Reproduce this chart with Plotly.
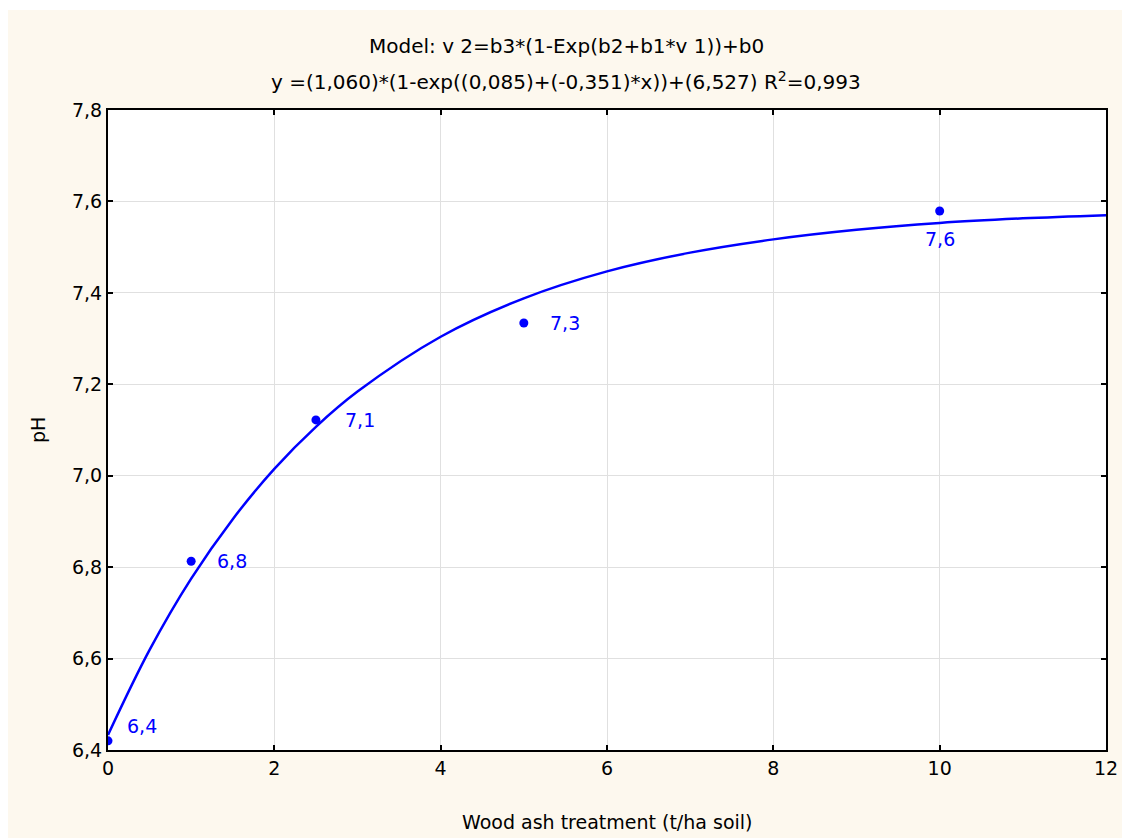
import plotly.graph_objects as go

# Observed data points
x_obs = [0, 1, 2.5, 5, 10]
y_obs = [6.42, 6.813, 7.122, 7.334, 7.579]
# label offsets (pixels) relative to each point
label_dx = [17, 24, 27, 24, 0]
label_dy = [15, 0, 0, 0, -28]
label_anchor = ["left", "left", "left", "left", "center"]

# Fitted curve
x_fit = [0, 0.5, 1, 1.5, 2, 2.5, 3, 4, 5, 6, 7, 8, 9, 10, 11, 12]
y_fit = [6.433, 6.619, 6.775, 6.905, 7.015, 7.107, 7.184, 7.304, 7.388,
         7.447, 7.488, 7.517, 7.538, 7.553, 7.563, 7.570]

x_ticks = [0, 2, 4, 6, 8, 10, 12]
y_ticks = [6.4, 6.6, 6.8, 7.0, 7.2, 7.4, 7.6, 7.8]

title_line1 = "Model: v 2=b3*(1-Exp(b2+b1*v 1))+b0"
title_line2 = "y =(1,060)*(1-exp((0,085)+(-0,351)*x))+(6,527) R<sup>2</sup>=0,993"
x_title = "Wood ash treatment (t/ha soil)"
y_title = "pH"

W, H = 1122, 838
L, R, T, B = 108, 16, 110, 88
pw, ph = W - L - R, H - T - B

FONT = "DejaVu Sans, Verdana, sans-serif"
BLUE = "#0000FF"
CREAM = "#FDF8EE"

fig = go.Figure()
fig.add_trace(go.Scatter(x=x_fit, y=y_fit, mode="lines",
                         line=dict(color=BLUE, width=2.5, shape="spline"),
                         hoverinfo="skip", showlegend=False))
fig.add_trace(go.Scatter(x=x_obs, y=y_obs, mode="markers",
                         marker=dict(color=BLUE, size=9),
                         showlegend=False, cliponaxis=True))

for xv, yv, dx, dy, anc in zip(x_obs, y_obs, label_dx, label_dy, label_anchor):
    fig.add_annotation(x=xv, y=yv, xref="x", yref="y", text=f"{yv:.1f}".replace(".", ","),
                       showarrow=False, xshift=dx, yshift=dy, xanchor=anc, yanchor="middle",
                       font=dict(size=19, family=FONT, color=BLUE))

axis_common = dict(showline=True, linecolor="black", linewidth=2, mirror="ticks",
                   ticks="inside", ticklen=5, tickwidth=2, tickcolor="black",
                   showgrid=True, gridcolor="#E0E0E0", gridwidth=1, zeroline=False,
                   tickfont=dict(size=19, family=FONT, color="black"))

fig.update_xaxes(range=[0, 12], tickvals=x_ticks, ticktext=[str(v) for v in x_ticks], **axis_common)
fig.update_yaxes(range=[6.4, 7.8], tickvals=y_ticks, tickformat=".1f", **axis_common)

# Cream background panel with white outer frame
fig.add_shape(type="rect", xref="paper", yref="paper", layer="below",
              x0=(8 - L) / pw, x1=(W - L) / pw, y0=-(B) / ph, y1=(H - B - 10) / ph,
              fillcolor=CREAM, line=dict(width=0))
fig.add_shape(type="rect", xref="paper", yref="paper", layer="below",
              x0=0, x1=1, y0=0, y1=1, fillcolor="white", line=dict(width=0))

tcx = (566 - L) / pw
fig.add_annotation(text=title_line1, xref="paper", yref="paper", x=tcx, y=(H - B - 46) / ph,
                   showarrow=False, font=dict(size=20, family=FONT, color="black"), yanchor="middle")
fig.add_annotation(text=title_line2, xref="paper", yref="paper", x=tcx, y=(H - B - 81) / ph,
                   showarrow=False, font=dict(size=20, family=FONT, color="black"), yanchor="middle")
fig.add_annotation(text=x_title, xref="paper", yref="paper", x=0.5, y=-(822 - (H - B)) / ph,
                   showarrow=False, font=dict(size=19, family=FONT, color="black"), yanchor="middle")
fig.add_annotation(text=y_title, xref="paper", yref="paper", x=(38 - L) / pw, y=0.5, textangle=-90,
                   showarrow=False, font=dict(size=19, family=FONT, color="black"),
                   xanchor="center", yanchor="middle")

fig.update_layout(width=W, height=H, margin=dict(l=L, r=R, t=T, b=B, autoexpand=False),
                  paper_bgcolor="white", plot_bgcolor="white", separators=", ",
                  font=dict(family=FONT))

fig.write_html("out.html", config={"displayModeBar": False},
               post_script="document.body.style.margin='0px';")
